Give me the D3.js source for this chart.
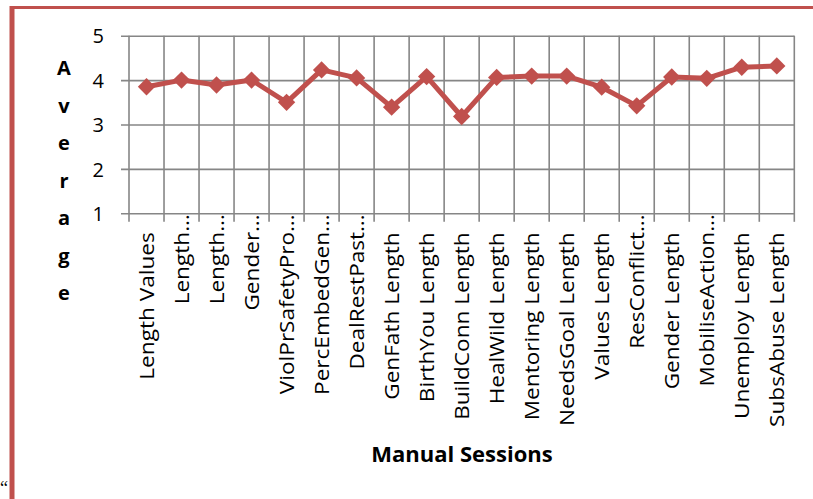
<!DOCTYPE html>
<html>
<head>
<meta charset="utf-8">
<script src="https://cdn.jsdelivr.net/npm/d3@7"></script>
<style>
  html, body { margin: 0; padding: 0; background: #fff; }
  svg { display: block; }
  text { font-family: "Open Sans", Carlito, Calibri, sans-serif; fill: #000; }
</style>
</head>
<body>
<svg id="chart" width="813" height="499"></svg>
<script>
// Session names shown along the category axis (truncated ones end with an ellipsis)
const sessions = [
  "Length Values", "Length…", "Length…", "Gender…", "ViolPrSafetyPro…",
  "PercEmbedGen…", "DealRestPast…", "GenFath Length", "BirthYou Length",
  "BuildConn Length", "HealWild Length", "Mentoring Length", "NeedsGoal Length",
  "Values Length", "ResConflict…", "Gender Length", "MobiliseAction…",
  "Unemploy Length", "SubsAbuse Length"
];

// Average score per session
const averages = [
  3.85, 4.00, 3.89, 4.00, 3.50, 4.23, 4.05, 3.39, 4.08, 3.18,
  4.06, 4.09, 4.09, 3.84, 3.42, 4.07, 4.04, 4.29, 4.32
];

// Value axis ticks
const yTicks = [1, 2, 3, 4, 5];
const yTitle = "Average";
const xTitle = "Manual Sessions";

const red = "#c0504d";
const grid = "#868686";

const svg = d3.select("#chart");
const plot = { left: 129, right: 794.3, top: 35.7, bottom: 213.3 };

// Outer chart frame
svg.append("line").attr("x1", 10).attr("x2", 813).attr("y1", 7.5).attr("y2", 7.5)
  .attr("stroke", red).attr("stroke-width", 3);
svg.append("line").attr("x1", 12).attr("x2", 12).attr("y1", 6).attr("y2", 499)
  .attr("stroke", red).attr("stroke-width", 5);

const x = d3.scaleBand().domain(d3.range(sessions.length))
  .range([plot.left, plot.right]).paddingInner(0).paddingOuter(0);
const y = d3.scaleLinear().domain([1, 5]).range([plot.bottom, plot.top]);

// Horizontal gridlines with ticks on the value axis
svg.append("g").attr("transform", `translate(${plot.left},0)`)
  .call(d3.axisLeft(y).tickValues(yTicks).tickSize(-(plot.right - plot.left))
    .tickFormat(d3.format("d")))
  .call(g => g.select(".domain").remove())
  .call(g => g.selectAll(".tick line").attr("stroke", grid).attr("stroke-width", 1.6)
    .attr("x1", -8))
  .call(g => g.selectAll(".tick text").attr("font-size", 20).attr("dy", "0.36em")
    .attr("x", -25).style("font-family", "'Open Sans', sans-serif"));

// Vertical gridlines on category boundaries, extending below the axis as tick marks
const bounds = d3.range(sessions.length + 1).map(i =>
  i < sessions.length ? x(i) : x(sessions.length - 1) + x.bandwidth());
svg.append("g").selectAll("line").data(bounds).join("line")
  .attr("x1", d => d).attr("x2", d => d)
  .attr("y1", plot.top).attr("y2", plot.bottom + 8.5)
  .attr("stroke", grid).attr("stroke-width", 1.6);

// Category labels, rotated and slightly stretched along their length
svg.append("g").selectAll("text").data(sessions).join("text")
  .attr("transform", (d, i) => {
    const cx = x(i) + x.bandwidth() / 2;
    const cy = plot.bottom + (d.endsWith("…") ? 1 : 19);
    return `translate(${cx},${cy}) rotate(-90) scale(1.13,1)`;
  })
  .attr("text-anchor", "end")
  .attr("dy", "0.35em")
  .attr("font-size", 20)
  .text(d => d);

// Data line and diamond markers
const cx = i => x(i) + x.bandwidth() / 2;
svg.append("path").datum(averages)
  .attr("fill", "none").attr("stroke", red).attr("stroke-width", 5)
  .attr("stroke-linejoin", "round")
  .attr("d", d3.line().x((d, i) => cx(i)).y(d => y(d)));

svg.append("g").selectAll("path").data(averages).join("path")
  .attr("transform", (d, i) => `translate(${cx(i)},${y(d)}) rotate(45)`)
  .attr("d", d3.symbol(d3.symbolSquare, 150)())
  .attr("fill", red);

// Value axis title, letters stacked vertically
svg.append("g").selectAll("text").data(yTitle.split("")).join("text")
  .attr("x", 64).attr("y", (d, i) => 75 + i * 37.5)
  .attr("text-anchor", "middle").attr("font-weight", "bold").attr("font-size", 20)
  .text(d => d);

// Category axis title
svg.append("text").attr("x", 462).attr("y", 461.5)
  .attr("text-anchor", "middle").attr("font-weight", "bold").attr("font-size", 22)
  .text(xTitle);

// Stray opening quote at the lower-left edge
svg.append("text").attr("x", 0).attr("y", 494)
  .style("font-family", "Liberation Serif, serif").attr("font-size", 18)
  .text("“");
</script>
</body>
</html>
